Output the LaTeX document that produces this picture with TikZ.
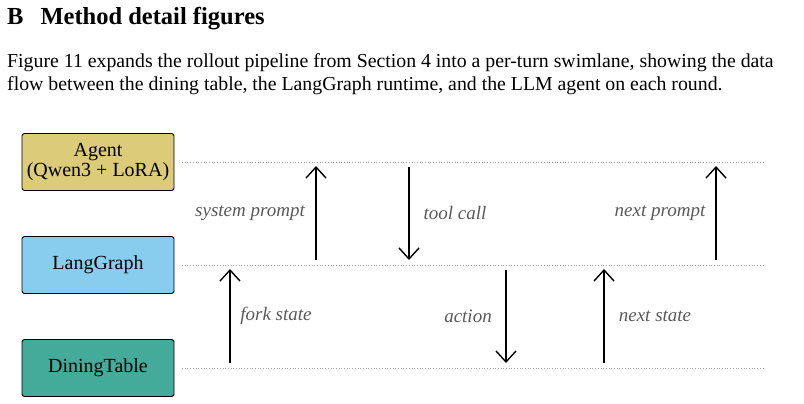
\documentclass[tikz,border=0pt]{standalone}
\usepackage{fontspec}
\setmainfont{Liberation Serif}
\usetikzlibrary{arrows.meta}
\definecolor{agentc}{HTML}{DCCB78}
\definecolor{langc}{HTML}{88CDED}
\definecolor{dinec}{HTML}{44AA99}
\begin{document}
\begin{tikzpicture}[x=1pt,y=-1pt,
  box/.style={draw=black,line width=0.9pt,rounded corners=2.5pt,minimum width=152pt,minimum height=57pt,align=center,font=\fontsize{20}{20}\selectfont,inner sep=1pt},
  lane/.style={gray!70,dotted,line width=0.7pt},
  flow/.style={line width=1.4pt,-{Straight Barb[length=11pt,width=20pt,line width=1.4pt]}},
  lab/.style={font=\itshape\fontsize{19}{21}\selectfont,text=black!65}]
\useasboundingbox (0,0) rectangle (804,404);
\node[anchor=base west,font=\bfseries\fontsize{24.5}{26}\selectfont,inner sep=0] (h) at (7,25) {B\hspace{17pt}Method detail figures};
\node[anchor=base west,font=\fontsize{19.8}{23}\selectfont,inner sep=0] (p1) at (7,68) {Figure 11 expands the rollout pipeline from Section 4 into a per-turn swimlane, showing the data};
\node[anchor=base west,font=\fontsize{19.8}{23}\selectfont,inner sep=0] (p2) at (7,91) {flow between the dining table, the LangGraph runtime, and the LLM agent on each round.};
\node[box,fill=agentc] (ag) at (98,162) {Agent\\(Qwen3 + LoRA)};
\node[box,fill=langc] (lg) at (98,265) {LangGraph};
\node[box,fill=dinec] (dt) at (98,368) {DiningTable};
\coordinate (la1) at (182,162); \coordinate (la2) at (764,162);
\coordinate (lb1) at (182,265); \coordinate (lb2) at (764,265);
\coordinate (lc1) at (182,368); \coordinate (lc2) at (764,368);
\draw[lane] (la1)--(la2); \draw[lane] (lb1)--(lb2); \draw[lane] (lc1)--(lc2);
\coordinate (a1) at (230,363); \coordinate (a2) at (230,269);
\coordinate (b1) at (316,260); \coordinate (b2) at (316,166);
\coordinate (c1) at (409,167); \coordinate (c2) at (409,260);
\coordinate (d1) at (506,270); \coordinate (d2) at (506,363);
\coordinate (e1) at (604,363); \coordinate (e2) at (604,269);
\coordinate (f1) at (716,260); \coordinate (f2) at (716,166);
\draw[flow] (a1)--(a2); \draw[flow] (b1)--(b2); \draw[flow] (c1)--(c2);
\draw[flow] (d1)--(d2); \draw[flow] (e1)--(e2); \draw[flow] (f1)--(f2);
\node[lab] (l1) at (250,213) {system prompt};
\node[lab] (l2) at (455,213) {tool call};
\node[lab] (l3) at (660,213) {next prompt};
\node[lab] (l4) at (276,316) {fork state};
\node[lab] (l5) at (468,316) {action};
\node[lab] (l6) at (655,316) {next state};
\end{tikzpicture}
\end{document}
